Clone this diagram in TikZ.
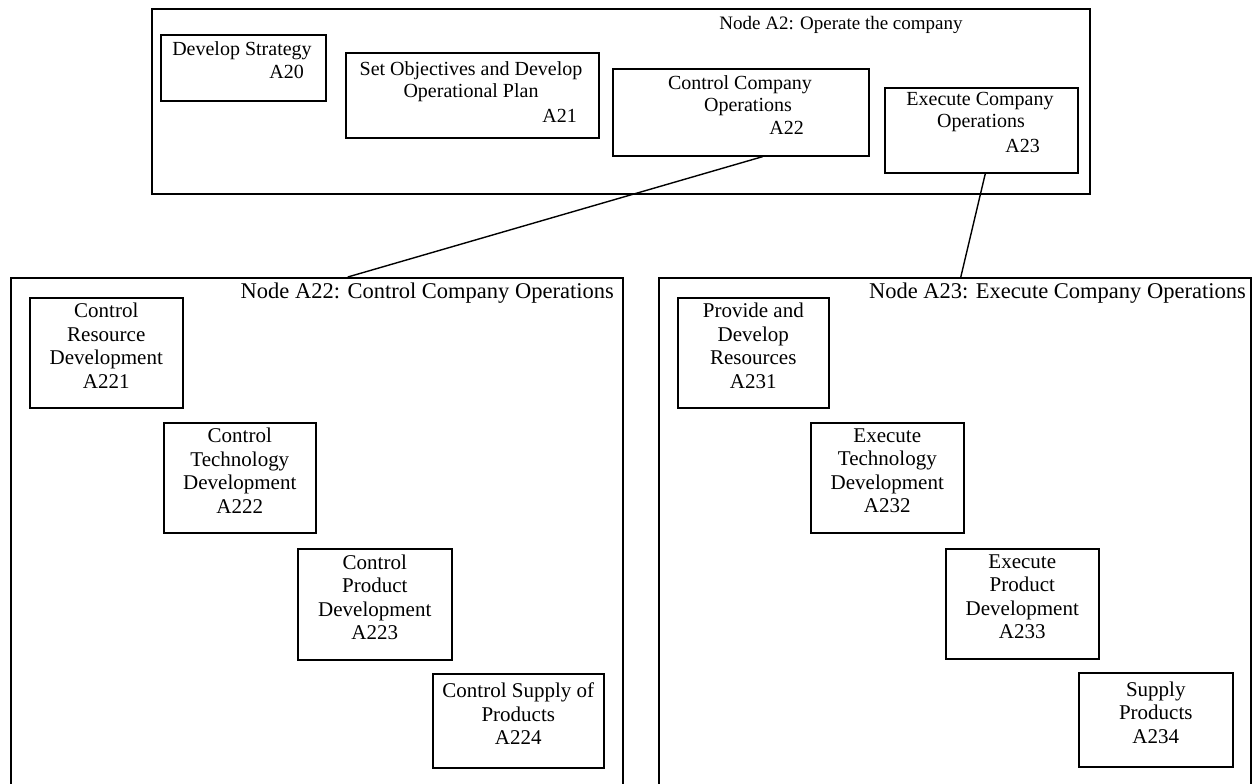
\documentclass[tikz,border=0pt]{standalone}
\usepackage{fontspec}
\setmainfont{Liberation Serif}
\begin{document}
\begin{tikzpicture}[x=1pt,y=-1pt,
  frame/.style={draw, line width=1.6pt, rectangle, inner sep=0pt, anchor=north west},
  box/.style={draw, line width=1.6pt, rectangle, inner sep=0pt, anchor=north west},
  toptext/.style={inner sep=0pt, font=\fontsize{20}{22}\selectfont},
  lowtext/.style={inner sep=0pt, align=center, font=\fontsize{21}{23.5}\selectfont},
  title/.style={inner sep=0pt, anchor=base east, font=\fontsize{22.5}{24}\selectfont},
  link/.style={line width=1.4pt}
]
\clip (0,0) rectangle (1254,784);
\fill[white] (0,0) rectangle (1254,784);

% ---------- Node A2 ----------
\node[frame, minimum width=938pt, minimum height=185pt] (a2) at (151,8) {};
\node[toptext, anchor=base, font=\fontsize{19}{22}\selectfont] (a2t) at (841,30) {Node A2: Operate the company};

\node[box, minimum width=165pt, minimum height=66pt] (a20) at (160,34) {};
\node[toptext, anchor=base] (a20l) at (242,56) {Develop Strategy};
\node[toptext, anchor=base east] (a20i) at (304,78) {A20};

\node[box, minimum width=253pt, minimum height=85pt] (a21) at (345,52) {};
\node[toptext, anchor=base] (a21l1) at (471,76) {Set Objectives and Develop};
\node[toptext, anchor=base] (a21l2) at (471,98) {Operational Plan};
\node[toptext, anchor=base east] (a21i) at (577,122) {A21};

\node[box, minimum width=256pt, minimum height=87pt] (a22) at (612,68) {};
\node[toptext, anchor=base] (a22l1) at (740,90) {Control Company};
\node[toptext, anchor=base] (a22l2) at (748,112) {Operations};
\node[toptext, anchor=base east] (a22i) at (804,135) {A22};

\node[box, minimum width=193pt, minimum height=85pt] (a23) at (884,87) {};
\node[toptext, anchor=base] (a23l1) at (980,106) {Execute Company};
\node[toptext, anchor=base] (a23l2) at (981,128) {Operations};
\node[toptext, anchor=base east] (a23i) at (1040,152) {A23};

% ---------- Node A22 ----------
\node[frame, minimum width=612pt, minimum height=530pt] (lf) at (10,277) {};
\node[title] (lft) at (614,298) {Node A22: Control Company Operations};

\node[box, minimum width=153pt, minimum height=110pt] (a221) at (29,297) {};
\node[lowtext] (a221t) at ([yshift=7pt]a221.center) {Control\\Resource\\Development\\A221};

\node[box, minimum width=152pt, minimum height=110pt] (a222) at (163,422) {};
\node[lowtext] (a222t) at ([yshift=7pt]a222.center) {Control\\Technology\\Development\\A222};

\node[box, minimum width=154pt, minimum height=111pt] (a223) at (297,548) {};
\node[lowtext] (a223t) at ([yshift=7pt]a223.center) {Control\\Product\\Development\\A223};

\node[box, minimum width=171pt, minimum height=94pt] (a224) at (432,673) {};
\node[lowtext] (a224t) at ([yshift=7pt]a224.center) {Control Supply of\\Products\\A224};

% ---------- Node A23 ----------
\node[frame, minimum width=592pt, minimum height=530pt] (rf) at (658,277) {};
\node[title] (rft) at (1246,298) {Node A23: Execute Company Operations};

\node[box, minimum width=151pt, minimum height=110pt] (a231) at (677,297) {};
\node[lowtext] (a231t) at ([yshift=7pt]a231.center) {Provide and\\Develop\\Resources\\A231};

\node[box, minimum width=153pt, minimum height=110pt] (a232) at (810,422) {};
\node[lowtext] (a232t) at ([yshift=7pt]a232.center) {Execute\\Technology\\Development\\A232};

\node[box, minimum width=153pt, minimum height=110pt] (a233) at (945,548) {};
\node[lowtext] (a233t) at ([yshift=7pt]a233.center) {Execute\\Product\\Development\\A233};

\node[box, minimum width=154pt, minimum height=94pt] (a234) at (1078,672) {};
\node[lowtext] (a234t) at ([yshift=7pt]a234.center) {Supply\\Products\\A234};

% ---------- decomposition links ----------
\draw[link] ([xshift=22pt]a22.south) -- ([xshift=31pt]lf.north);
\draw[link] ([xshift=4pt]a23.south) -- ([xshift=6pt]rf.north);
\end{tikzpicture}
\end{document}
